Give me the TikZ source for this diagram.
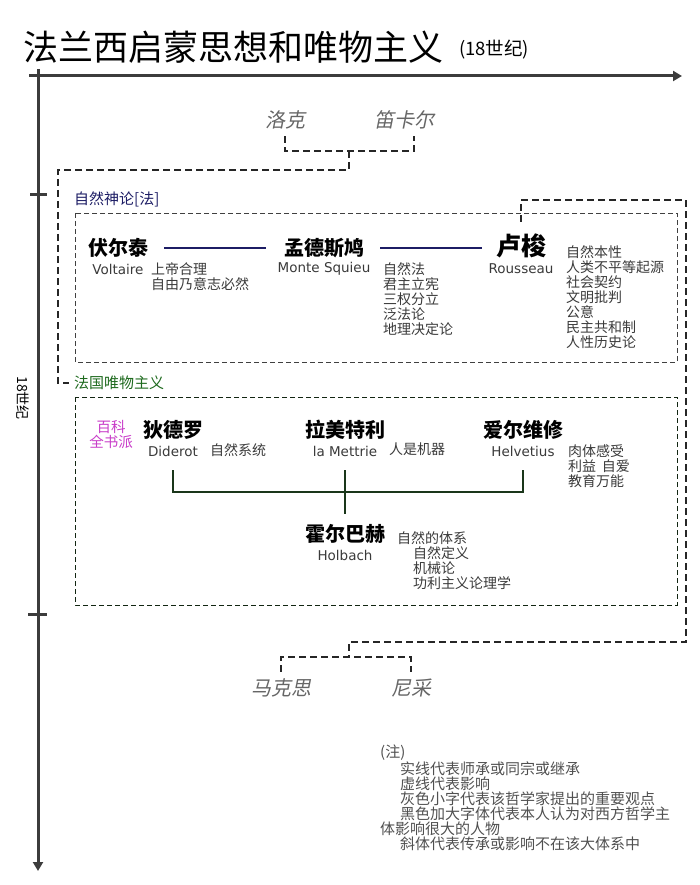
\documentclass[tikz,border=0pt]{standalone}
\usepackage{fontspec}
\setmainfont{Noto Sans CJK SC}
\newfontfamily\cjkit[FakeSlant=0.2]{Noto Sans CJK SC}
\newfontfamily\latinf{DejaVu Sans}
\usetikzlibrary{calc}
\usetikzlibrary{arrows.meta}

\definecolor{axisgray}{HTML}{3C3C3C}
\definecolor{ideagray}{HTML}{3A3A3A}
\definecolor{notegray}{HTML}{505050}
\definecolor{deistblue}{HTML}{1C1C64}
\definecolor{matgreen}{HTML}{1E6A1E}
\definecolor{treegreen}{HTML}{1A361A}
\definecolor{encyc}{HTML}{C83CC8}

\begin{document}
\begin{tikzpicture}[x=1pt,y=-1pt,
    axisline/.style={axisgray,line width=3pt},
    infl/.style={black!85,line width=1.8pt,dash pattern=on 7pt off 4pt},
    boxline/.style={black!75,line width=0.8pt,dash pattern=on 5pt off 3pt},
    namefont/.style={inner sep=0,font=\bfseries\fontsize{20}{20}\selectfont},
    latinfont/.style={inner sep=0,text=ideagray,font=\latinf\fontsize{13.5}{13.5}\selectfont},
    ideafont/.style={inner sep=0,anchor=north west,align=left,text=ideagray,font=\fontsize{14}{15}\selectfont},
    outside/.style={inner sep=0,text=black!60,font=\cjkit\fontsize{20}{20}\selectfont}]
\useasboundingbox (0,0) rectangle (700,885);

% title and time axes
\node[inner sep=0,anchor=west,font=\fontsize{35}{36}\selectfont] (title) at (23,47) {法兰西启蒙思想和唯物主义};
\node[inner sep=0,anchor=west,font=\fontsize{18.5}{19}\selectfont] (titlesub) at (459,50) {(18世纪)};
\draw[axisline,-{Triangle[length=9pt,width=10pt]}] (29,76) -- (682,76);
\draw[axisline,-{Triangle[length=9pt,width=10pt]}] (38,69) -- (38,871);
\draw[axisline] (30,195) -- (47,195);
\draw[axisline] (28,614) -- (47,614);
\node[inner sep=0,rotate=-90,font=\fontsize{14}{14}\selectfont] (century) at (23,398) {18世纪};

\coordinate (vol) at (118,248);
\coordinate (mon) at (324,248);
\coordinate (rou) at (521,246);
\coordinate (did) at (173,430);
\coordinate (lam) at (345,430);
\coordinate (hel) at (523,430);
\coordinate (hol) at (345,534);
\coordinate (lkj) at (349,151);
\coordinate (lkd) at (349,170);
\coordinate (lkl) at (58,170);
\coordinate (rc1) at (686,200);
\coordinate (rc2) at (686,642);
\coordinate (mxj) at (349,657);
\coordinate (tj) at (345,492);

\newcommand{\thinker}[3]{
    \node[namefont] (#1n) at (#1) {#2};
    \node[latinfont] (#1l) at ($(#1)+(0,21)$) {#3};
}

\newcommand{\ideas}[3]{
    \node[ideafont] (#1i) at (#2) {#3};
}

% 自然神论
\draw[boxline] (75,213) rectangle (677,362);
\node[inner sep=0,anchor=west,text=deistblue,font=\fontsize{15}{15}\selectfont] (deism) at (74,199) {自然神论[法]};
\thinker{vol}{伏尔泰}{Voltaire}
\thinker{mon}{孟德斯鸠}{Monte Squieu}
\node[namefont,font=\bfseries\fontsize{25}{25}\selectfont] (roun) at (rou) {卢梭};
\node[latinfont] (roul) at (521,269) {Rousseau};
\ideas{vol}{151,262}{上帝合理\\自由乃意志必然}
\ideas{mon}{383,262}{自然法\\君主立宪\\三权分立\\泛法论\\地理决定论}
\ideas{rou}{566,245}{自然本性\\人类不平等起源\\社会契约\\文明批判\\公意\\民主共和制\\人性历史论}
\draw[deistblue,line width=2pt] ([xshift=16pt]voln.east) -- ([xshift=-18pt]monn.west);
\draw[deistblue,line width=2pt] ([xshift=16pt]monn.east) -- ([xshift=-14pt]monn.east -| roun.west);

% 法国唯物主义
\draw[boxline,treegreen!70!black] (75,397) rectangle (677,605);
\node[inner sep=0,anchor=west,text=matgreen,font=\fontsize{15}{15}\selectfont] (mater) at (74,383) {法国唯物主义};
\node[inner sep=0,align=center,text=encyc,font=\fontsize{14.5}{15}\selectfont] (baike) at (111,435) {百科\\全书派};
\thinker{did}{狄德罗}{Diderot}
\thinker{lam}{拉美特利}{la Mettrie}
\thinker{hel}{爱尔维修}{Helvetius}
\thinker{hol}{霍尔巴赫}{Holbach}
\ideas{did}{210,443}{自然系统}
\ideas{lam}{389,443}{人是机器}
\ideas{hel}{568,444}{肉体感受\\利益\hspace{0.4em}自爱\\教育万能}
\ideas{hol}{397,531}{自然的体系\\\hspace*{16pt}自然定义\\\hspace*{16pt}机械论\\\hspace*{16pt}功利主义论理学}
\draw[treegreen,line width=2pt] ([yshift=-14pt]didl.south) -- (didl.south |- tj) -- (hell.south |- tj) -- ([yshift=-14pt]hell.south);
\draw[treegreen,line width=2pt] ([yshift=-14pt]laml.south) -- ([yshift=10pt]holn.north);

% influences (dashed)
\node[outside] (lk) at (285,120) {洛克};
\node[outside] (dke) at (404,120) {笛卡尔};
\draw[infl] ([yshift=-7pt]lk.south) -- (lk.south |- lkj) -- ([xshift=10pt]dke.south |- lkj) -- ([xshift=10pt,yshift=-7pt]dke.south);
\draw[infl] (lkj) -- (lkd) -- (lkl) -- (lkl |- mater.west) -- ([xshift=-5pt]mater.west);
\node[outside] (mks) at (281,688) {马克思};
\node[outside] (nc) at (411,688) {尼采};
\draw[infl] ([yshift=12pt]roun.north) -- (roun.north |- rc1) -- (rc1) -- (rc2) -- (mxj |- rc2) -- (mxj);
\draw[infl] ([yshift=7pt]mks.north) -- (mks.north |- mxj) -- (nc.north |- mxj) -- ([yshift=7pt]nc.north);

% 注
\node[inner sep=0,anchor=north west,align=left,text=notegray,font=\fontsize{15}{15}\selectfont] (note) at (380,745)
    {(注)\\\hspace*{20pt}实线代表师承或同宗或继承\\\hspace*{20pt}虚线代表影响\\\hspace*{20pt}灰色小字代表该哲学家提出的重要观点\\\hspace*{20pt}黑色加大字体代表本人认为对西方哲学主\\体影响很大的人物\\\hspace*{20pt}斜体代表传承或影响不在该大体系中};
\end{tikzpicture}
\end{document}
